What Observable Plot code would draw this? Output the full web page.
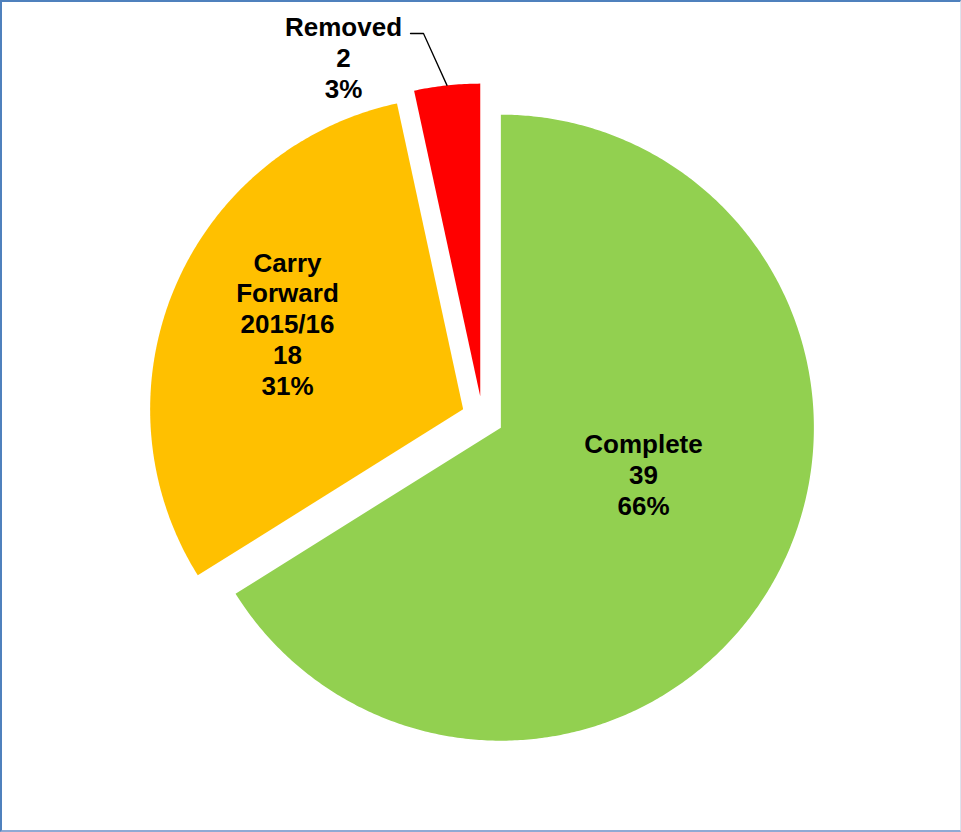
<!DOCTYPE html>
<html>
<head>
<meta charset="utf-8">
<script src="https://cdn.jsdelivr.net/npm/d3@7"></script>
<script src="https://cdn.jsdelivr.net/npm/@observablehq/plot@0.6"></script>
<style>
  html, body { margin: 0; padding: 0; background: #fff; }
  #wrap { position: relative; width: 961px; height: 832px; overflow: hidden; }
  #chart { position: absolute; left: 0; top: 0; }
  #frame { position: absolute; left: 0; top: 0; width: 961px; height: 832px; box-sizing: border-box;
           border-top: 2px solid #4F81BD; border-left: 2px solid #4F81BD;
           border-bottom: 2px solid #8EA9D4; border-right: 1px solid #DCE3EE; pointer-events: none; }
</style>
</head>
<body>
<div id="wrap"><div id="chart"></div><div id="frame"></div></div>
<script>
// ---- data ----
const categories = ["Complete", "Carry Forward 2015/16", "Removed"];
const labelNames = ["Complete", "Carry\nForward\n2015/16", "Removed"];
const counts = [39, 18, 2];
const percents = ["66%", "31%", "3%"];
const colors = ["#92D050", "#FFC000", "#FF0000"];

// ---- layout (pixels) ----
const W = 961, H = 832;
const cx = 482, cy = 417, R = 313;
const explode = 21 / R;                 // explosion offset, in radius units
const labelPx = [[643, 474], [287, 323], [343, 57]];   // label centres

// pie angles (0 = 12 o'clock, clockwise)
const arcs = d3.pie().sort(null).value(d => d)(counts);

const pt = (a, r) => [r * Math.sin(a), r * Math.cos(a)];   // data space, y up

const sliceRows = [];
arcs.forEach((a, i) => {
  const mid = (a.startAngle + a.endAngle) / 2;
  const [ox, oy] = pt(mid, explode);
  sliceRows.push({cat: categories[i], color: colors[i], x: ox, y: oy});
  const n = Math.max(4, Math.ceil((a.endAngle - a.startAngle) / (Math.PI / 360)));
  for (let k = 0; k <= n; k++) {
    const t = a.startAngle + (a.endAngle - a.startAngle) * k / n;
    const [px, py] = pt(t, 1);
    sliceRows.push({cat: categories[i], color: colors[i], x: ox + px, y: oy + py});
  }
});

const toData = ([px, py]) => [(px - cx) / R, (cy - py) / R];

const labelRows = arcs.map((a, i) => {
  const [x, y] = toData(labelPx[i]);
  return {x, y, text: `${labelNames[i]}\n${counts[i]}\n${percents[i]}`};
});

// leader line for the small "Removed" slice
const ra = arcs[2];
const rmid = (ra.startAngle + ra.endAngle) / 2;
const [rox, roy] = pt(rmid, explode);
const [rex, rey] = pt(rmid, 1);
const [lx, ly] = toData([labelPx[2][0] + 67, labelPx[2][1] - 24]);
const leaderRows = [
  {x: lx, y: ly},
  {x: lx + 13 / R, y: ly},
  {x: rox + rex, y: roy + rey}
];

const chart = Plot.plot({
  width: W,
  height: H,
  margin: 0,
  axis: null,
  x: {domain: [-cx / R, (W - cx) / R], range: [0, W]},
  y: {domain: [-(H - cy) / R, cy / R], range: [H, 0]},
  color: {type: "identity"},
  style: {background: "transparent"},
  marks: [
    Plot.line(sliceRows, {x: "x", y: "y", z: "cat", fill: "color", stroke: null, curve: "linear-closed"}),
    Plot.line(leaderRows, {x: "x", y: "y", stroke: "#000", strokeWidth: 1.3}),
    Plot.text(labelRows, {
      x: "x", y: "y", text: "text",
      fontSize: 26, fontWeight: "bold", fontFamily: "'Liberation Sans', Arial, sans-serif",
      fill: "#000", lineHeight: 1.19, lineAnchor: "middle", textAnchor: "middle"
    })
  ]
});
document.getElementById("chart").appendChild(chart);
</script>
</body>
</html>
